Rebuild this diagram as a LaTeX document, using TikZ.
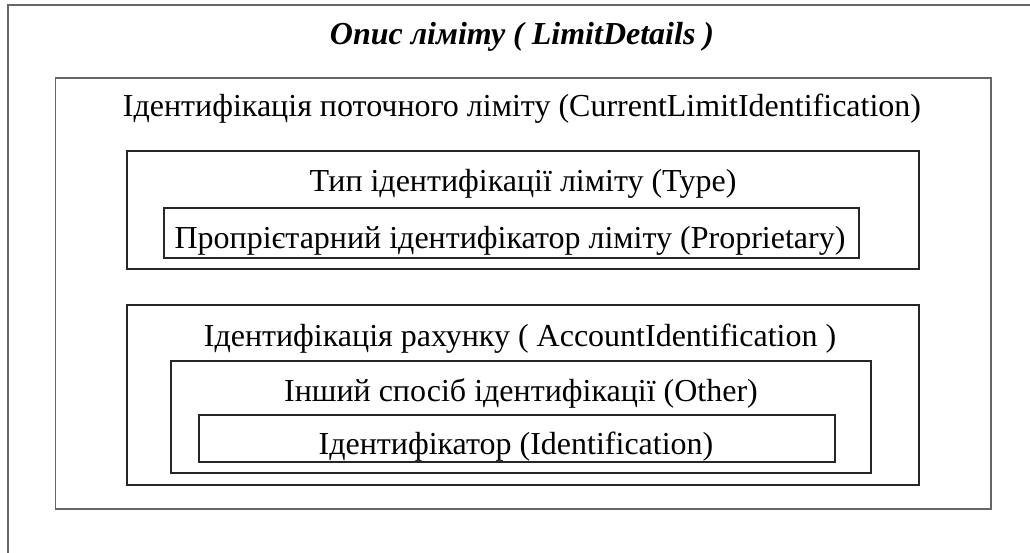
\documentclass[tikz,border=0pt]{standalone}
\usepackage{fontspec}
\setmainfont{Liberation Serif}
\begin{document}
\begin{tikzpicture}[x=1pt,y=-1pt,
  outerline/.style={draw=black!60,line width=1.6pt},
  boxline/.style={draw=black!85,line width=1.1pt},
  lbl/.style={anchor=base,inner sep=0pt,font=\fontsize{32}{36}\selectfont},
  ttl/.style={anchor=base,inner sep=0pt,font=\fontsize{32}{36}\selectfont\bfseries\itshape}]
\useasboundingbox (0,0) rectangle (1030,553);
\clip (0,0) rectangle (1030,553);
\fill[white] (0,0) rectangle (1030,553);
\draw[outerline] (8,600) -- (8,5) -- (1100,5);
\coordinate (b2a) at (55.5,78);  \coordinate (b2b) at (991,509);
\coordinate (b3a) at (127,151);  \coordinate (b3b) at (919,269);
\coordinate (b4a) at (164,208);  \coordinate (b4b) at (859,258);
\coordinate (b5a) at (127,305);  \coordinate (b5b) at (919,485);
\coordinate (b6a) at (171,361);  \coordinate (b6b) at (871,473);
\coordinate (b7a) at (199,415);  \coordinate (b7b) at (835,462);
\draw[outerline] (b2a) rectangle (b2b);
\draw[boxline] (b3a) rectangle (b3b);
\draw[boxline] (b4a) rectangle (b4b);
\draw[boxline] (b5a) rectangle (b5b);
\draw[boxline] (b6a) rectangle (b6b);
\draw[boxline] (b7a) rectangle (b7b);
\node[ttl] (t1) at (522,45) {Опис ліміту ( LimitDetails )};
\node[lbl] (t2) at (522,117) {Ідентифікація поточного ліміту (CurrentLimitIdentification)};
\node[lbl] (t3) at (523,192) {Тип ідентифікації ліміту (Type)};
\node[lbl] (t4) at (510,249) {Пропрієтарний ідентифікатор ліміту (Proprietary)};
\node[lbl] (t5) at (520,346) {Ідентифікація рахунку ( AccountIdentification )};
\node[lbl] (t6) at (521,401) {Інший спосіб ідентифікації (Other)};
\node[lbl] (t7) at (516,454) {Ідентифікатор (Identification)};
\end{tikzpicture}
\end{document}
